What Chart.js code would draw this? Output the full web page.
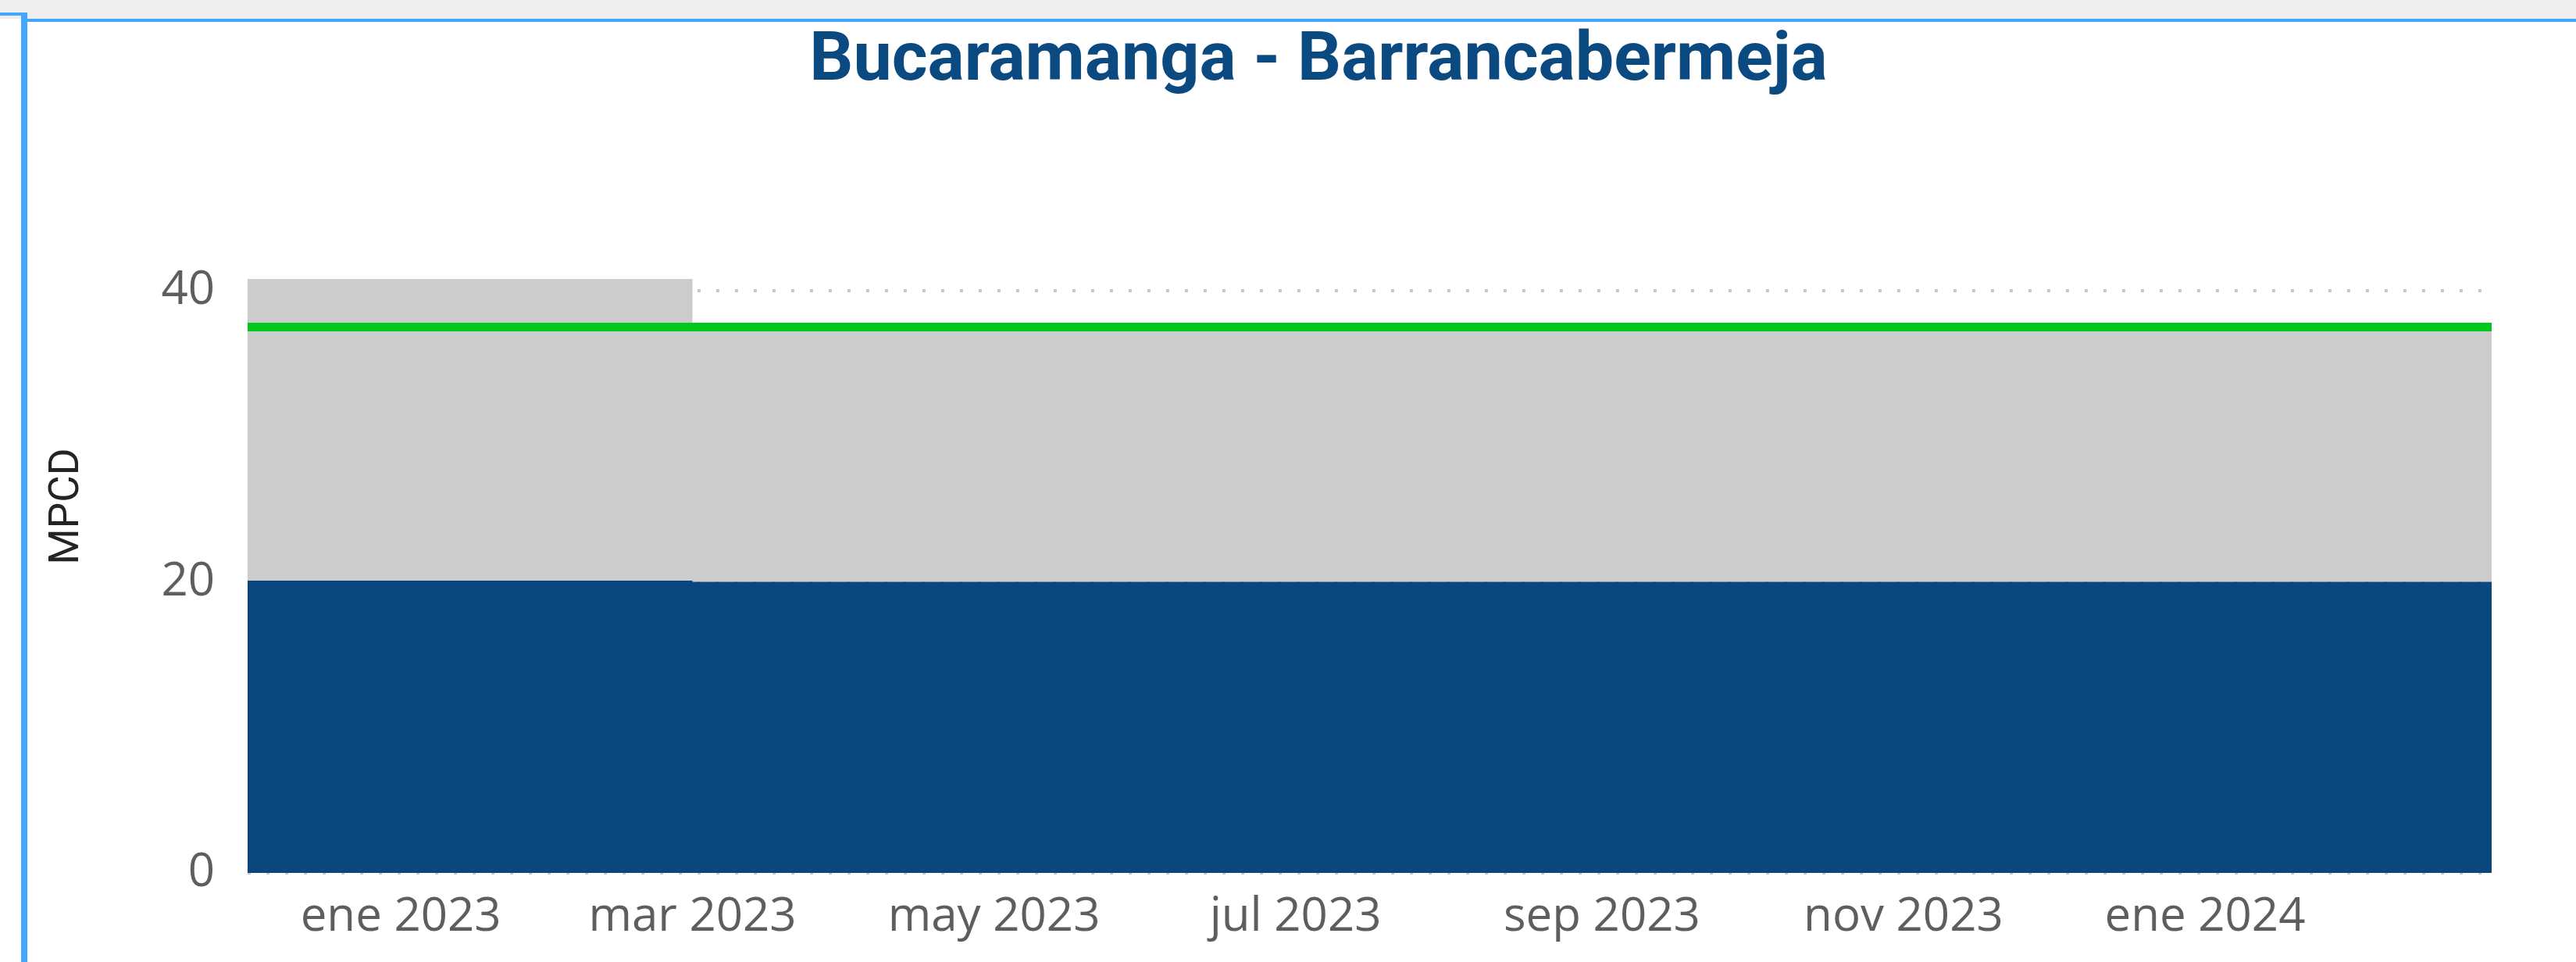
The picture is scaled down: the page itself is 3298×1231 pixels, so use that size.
<!DOCTYPE html>
<html lang="es">
<head>
<meta charset="utf-8">
<title>Bucaramanga - Barrancabermeja</title>
<script src="https://cdn.jsdelivr.net/npm/chart.js@4.4.1/dist/chart.umd.min.js"></script>
<style>
  html, body { margin: 0; padding: 0; background: #fff; overflow: hidden; }
  body { width: 3298px; height: 1231px; position: relative; }
  .strip { position: absolute; left: 0; top: 0; width: 100%; height: 24px; background: #eeeeee; }
  .tab   { position: absolute; left: 0; top: 16px; width: 31px; height: 4px; background: #44a6ff; }
  .edge  { position: absolute; left: 27px; top: 16px; width: 8px; bottom: 0; background: #44a6ff; }
  .frame { position: absolute; left: 27px; top: 24px; right: 0; height: 4px; background: #44a6ff; }
  #flowChart { position: absolute; left: 35px; top: 28px; }
</style>
</head>
<body>
<div class="strip"></div>
<div class="tab"></div>
<div class="edge"></div>
<div class="frame"></div>
<canvas id="flowChart" width="3263" height="1203"></canvas>

<script>
// daily series only change on these dates
const dates     = ["2022-12-01", "2023-03-01", "2024-02-28"];
const baseFlow  = [20.08, 20.0, 20.0];
const extraFlow = [20.72, 17.5, 17.5];
const capacity  = [37.5, 37.5, 37.5];

const xTickDates  = ["2023-01-01", "2023-03-01", "2023-05-01", "2023-07-01", "2023-09-01", "2023-11-01", "2024-01-01"];
const xTickLabels = ["ene 2023", "mar 2023", "may 2023", "jul 2023", "sep 2023", "nov 2023", "ene 2024"];
const yTicks      = [0, 20, 40];

// yyyy-mm-dd -> day number
function dayOf(s) {
  const [y, m, d] = s.split("-").map(Number);
  return Date.UTC(y, m - 1, d) / 86400000;
}

const points = values => dates.map((d, i) => ({ x: dayOf(d), y: values[i] }));
const yMax = Math.max(...dates.map((_, i) => baseFlow[i] + extraFlow[i]));

const tickFont = { family: "'Open Sans', sans-serif", size: 60, lineHeight: 1 };

// rotated unit label left of the value axis
const axisLabel = {
  id: "axisLabel",
  afterDraw(chart) {
    const { ctx } = chart;
    ctx.save();
    ctx.translate(52, 620);
    ctx.rotate(-Math.PI / 2);
    ctx.font = "53px Roboto";
    ctx.fillStyle = "#252423";
    ctx.textAlign = "center";
    ctx.textBaseline = "middle";
    ctx.fillText("MPCD", 0, 0);
    ctx.restore();
  }
};

new Chart(document.getElementById("flowChart"), {
  type: "line",
  data: {
    datasets: [
      {
        data: points(baseFlow),
        stack: "flow",
        stepped: true,
        fill: "origin",
        backgroundColor: "#0b477f",
        borderColor: "rgba(0,0,0,0)",
        borderWidth: 0,
        pointRadius: 0
      },
      {
        data: points(extraFlow),
        stack: "flow",
        stepped: true,
        fill: "-1",
        backgroundColor: "#cccccc",
        borderColor: "rgba(0,0,0,0)",
        borderWidth: 0,
        pointRadius: 0
      },
      {
        data: points(capacity),
        stack: "cap",
        order: -1,
        fill: false,
        borderColor: "#00c81a",
        borderWidth: 11,
        borderCapStyle: "round",
        pointRadius: 0
      }
    ]
  },
  options: {
    responsive: false,
    animation: false,
    devicePixelRatio: 1,
    layout: { padding: { left: 151, right: 108, top: 0, bottom: 0 } },
    plugins: {
      legend: { display: false },
      tooltip: { enabled: false },
      title: {
        display: true,
        text: "Bucaramanga - Barrancabermeja",
        color: "#0b4a80",
        font: { family: "Roboto", size: 88, weight: "bold", lineHeight: 1 },
        padding: { top: 8, bottom: 233 }
      }
    },
    scales: {
      x: {
        type: "linear",
        min: dayOf(dates[0]),
        max: dayOf(dates[dates.length - 1]),
        grid: { display: false, drawTicks: false },
        border: { display: false },
        afterBuildTicks: scale => { scale.ticks = xTickDates.map(d => ({ value: dayOf(d) })); },
        afterFit: scale => { scale.height = 114; },
        ticks: {
          autoSkip: false,
          maxRotation: 0,
          padding: 27,
          color: "#605e5c",
          font: tickFont,
          callback: (value, index) => xTickLabels[index]
        }
      },
      y: {
        stacked: true,
        min: 0,
        max: yMax,
        grid: { color: "#c8c8c8", lineWidth: 4, drawTicks: false },
        border: { display: false, dash: [4, 20] },
        afterBuildTicks: scale => { scale.ticks = yTicks.map(v => ({ value: v })); },
        afterFit: scale => { scale.width = 131; },
        ticks: {
          padding: 42,
          color: "#605e5c",
          font: tickFont
        }
      }
    }
  },
  plugins: [axisLabel]
});
</script>
</body>
</html>
